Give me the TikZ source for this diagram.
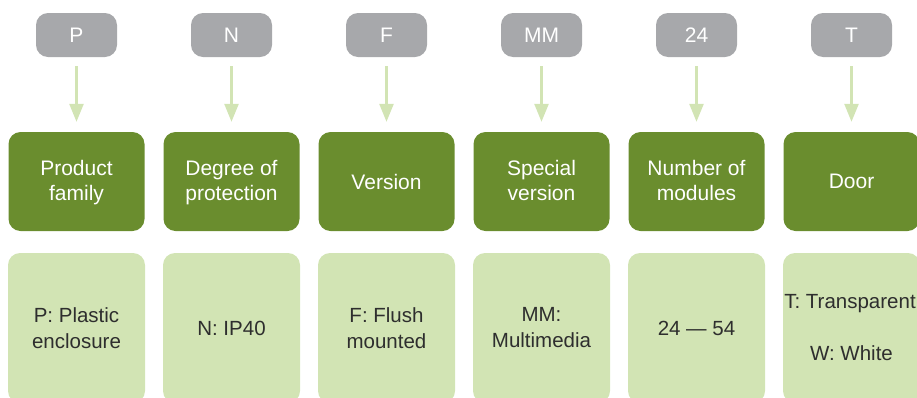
\documentclass[tikz,border=0pt]{standalone}
\usepackage{fontspec}
\setmainfont{Liberation Sans}
\usepackage{xcolor}
\usetikzlibrary{arrows.meta}
\definecolor{codegray}{HTML}{A7A8AB}
\definecolor{darkgreen}{HTML}{6A8D2E}
\definecolor{palegreen}{HTML}{D2E4B4}
\definecolor{textgray}{HTML}{2E2E2E}

\begin{document}
\begin{tikzpicture}[x=1pt,y=-1pt,
        code/.style={fill=codegray,rounded corners=12pt,minimum width=81pt,minimum height=44pt,text=white,font=\fontsize{21}{25}\selectfont},
        field/.style={fill=darkgreen,rounded corners=12pt,minimum width=136pt,minimum height=99pt,text=white,align=center,font=\fontsize{21}{25}\selectfont},
        choice/.style={fill=palegreen,rounded corners=12pt,minimum width=137pt,minimum height=150pt,text=textgray,align=center,font=\fontsize{20.5}{26}\selectfont},
        link/.style={-{Triangle[length=18pt,width=14pt]},line width=2.5pt,palegreen,shorten <=9pt,shorten >=10pt}]
    \useasboundingbox (0,0) rectangle (917,397);
    % codes
    \node[code] (cP) at (76.5,35) {P};
    \node[code] (cN) at (231.5,35) {N};
    \node[code] (cF) at (386.5,35) {F};
    \node[code] (cMM) at (541.5,35) {MM};
    \node[code] (c24) at (696.5,35) {24};
    \node[code] (cT) at (851.5,35) {T};
    % fields
    \node[field,text depth=2pt] (fP) at (76.5,181.5) {Product\\family};
    \node[field,text depth=2pt] (fN) at (231.5,181.5) {Degree of\\protection};
    \node[field] (fF) at (386.5,181.5) {Version};
    \node[field,text depth=2pt] (fMM) at (541.5,181.5) {Special\\version};
    \node[field,text depth=2pt] (f24) at (696.5,181.5) {Number of\\modules};
    \node[field] (fT) at (851.5,181.5) {Door};
    % choices
    \node[choice] (vP) at (76.5,328) {P: Plastic\\enclosure};
    \node[choice] (vN) at (231.5,328) {N: IP40};
    \node[choice] (vF) at (386.5,328) {F: Flush\\mounted};
    \node[choice] (vMM) at (541.5,328) {MM:\\Multimedia};
    \node[choice] (v24) at (696.5,328) {24 — 54};
    \node[choice] (vT) at (851.5,328) {\hspace*{-3pt}T: Transparent\\[26pt]W: White};
    % arrows
    \draw[link] (cP) -- (fP);
    \draw[link] (cN) -- (fN);
    \draw[link] (cF) -- (fF);
    \draw[link] (cMM) -- (fMM);
    \draw[link] (c24) -- (f24);
    \draw[link] (cT) -- (fT);
\end{tikzpicture}
\end{document}
